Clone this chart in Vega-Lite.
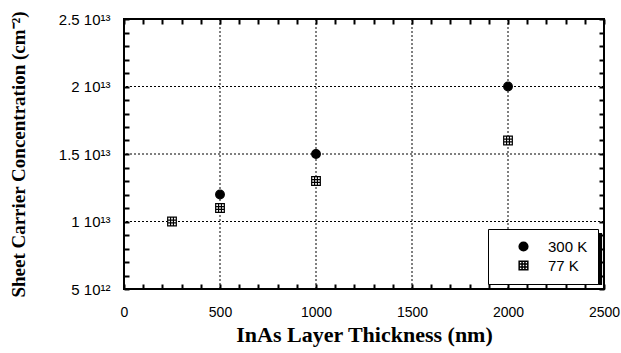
{
  "$schema": "https://vega.github.io/schema/vega-lite/v6.json",
  "width": 480,
  "height": 270,
  "autosize": {"type": "none"},
  "padding": {"left": 124, "top": 19, "right": 17, "bottom": 64},
  "background": "white",
  "config": {
    "view": {"stroke": "black", "strokeWidth": 2},
    "axis": {
      "domain": false,
      "labelColor": "black",
      "labelFont": "Liberation Sans",
      "labelFlush": false,
      "labelOverlap": false,
      "titleColor": "black",
      "titleFont": "Liberation Serif",
      "titleFontWeight": "bold",
      "titleFontSize": 19
    }
  },
  "datasets": {
    "pts": [
      {"thickness": 500, "conc": 12000000000000, "series": "300 K"},
      {"thickness": 1000, "conc": 15000000000000, "series": "300 K"},
      {"thickness": 2000, "conc": 20000000000000, "series": "300 K"},
      {"thickness": 250, "conc": 10000000000000, "series": "77 K"},
      {"thickness": 500, "conc": 11000000000000, "series": "77 K"},
      {"thickness": 1000, "conc": 13000000000000, "series": "77 K"},
      {"thickness": 2000, "conc": 16000000000000, "series": "77 K"}
    ],
    "one": [{"grid": 1}]
  },
  "layer": [
    {
      "data": {"name": "pts"},
      "mark": {"type": "point", "opacity": 0},
      "encoding": {
        "x": {
          "field": "thickness", "type": "quantitative",
          "scale": {"domain": [0, 2500], "nice": false, "zero": false},
          "axis": {
            "orient": "top", "title": null, "labels": false, "grid": false,
            "ticks": true, "tickSize": -5, "tickColor": "#000000", "tickWidth": 2,
            "values": [0,100,200,300,400,500,600,700,800,900,1000,1100,1200,1300,1400,1500,1600,1700,1800,1900,2000,2100,2200,2300,2400,2500]
          }
        },
        "y": {
          "field": "conc", "type": "quantitative",
          "scale": {"domain": [5000000000000, 25000000000000], "nice": false, "zero": false},
          "axis": {
            "orient": "right", "title": null, "labels": false, "grid": false,
            "ticks": true, "tickSize": -5, "tickColor": "#000000", "tickWidth": 2,
            "values": [5000000000000,6000000000000,7000000000000,8000000000000,9000000000000,10000000000000,11000000000000,12000000000000,13000000000000,14000000000000,15000000000000,16000000000000,17000000000000,18000000000000,19000000000000,20000000000000,21000000000000,22000000000000,23000000000000,24000000000000,25000000000000]
          }
        }
      }
    },
    {"data": {"name": "one"}, "mark": {"type": "rule", "color": "black", "strokeWidth": 1, "strokeDash": [2, 2]}, "encoding": {"x": {"datum": 500, "type": "quantitative", "axis": null}}},
    {"data": {"name": "one"}, "mark": {"type": "rule", "color": "black", "strokeWidth": 1, "strokeDash": [2, 2]}, "encoding": {"x": {"datum": 1000, "type": "quantitative", "axis": null}}},
    {"data": {"name": "one"}, "mark": {"type": "rule", "color": "black", "strokeWidth": 1, "strokeDash": [2, 2]}, "encoding": {"x": {"datum": 1500, "type": "quantitative", "axis": null}}},
    {"data": {"name": "one"}, "mark": {"type": "rule", "color": "black", "strokeWidth": 1, "strokeDash": [2, 2]}, "encoding": {"x": {"datum": 2000, "type": "quantitative", "axis": null}}},
    {"data": {"name": "one"}, "mark": {"type": "rule", "color": "black", "strokeWidth": 1, "strokeDash": [2, 2]}, "encoding": {"y": {"datum": 10000000000000, "type": "quantitative", "axis": null}}},
    {"data": {"name": "one"}, "mark": {"type": "rule", "color": "black", "strokeWidth": 1, "strokeDash": [2, 2]}, "encoding": {"y": {"datum": 15000000000000, "type": "quantitative", "axis": null}}},
    {"data": {"name": "one"}, "mark": {"type": "rule", "color": "black", "strokeWidth": 1, "strokeDash": [2, 2]}, "encoding": {"y": {"datum": 20000000000000, "type": "quantitative", "axis": null}}},
    {
      "data": {"name": "one"},
      "mark": {"type": "rect", "fill": "black", "opacity": 1},
      "encoding": {
        "x": {"datum": 1917, "type": "quantitative", "axis": null},
        "x2": {"datum": 2490},
        "y": {"datum": 9150000000000, "type": "quantitative", "axis": null},
        "y2": {"datum": 5300000000000}
      }
    },
    {
      "data": {"name": "pts"},
      "mark": {"type": "point", "stroke": "black", "strokeWidth": 1.2, "size": 75, "opacity": 1},
      "encoding": {
        "x": {
          "field": "thickness", "type": "quantitative",
          "scale": {"domain": [0, 2500], "nice": false, "zero": false},
          "axis": {
            "orient": "bottom",
            "title": "InAs Layer Thickness (nm)",
            "titleFontSize": 22,
            "format": "d",
            "values": [0,100,200,300,400,500,600,700,800,900,1000,1100,1200,1300,1400,1500,1600,1700,1800,1900,2000,2100,2200,2300,2400,2500],
            "labelExpr": "datum.value % 500 === 0 ? datum.label : ''",
            "labelFontSize": 14,
            "labelPadding": 21,
            "titlePadding": 5,
            "ticks": true, "tickSize": -5, "tickColor": "#000000", "tickWidth": 2,
            "grid": false
          }
        },
        "y": {
          "field": "conc", "type": "quantitative",
          "scale": {"domain": [5000000000000, 25000000000000], "nice": false, "zero": false},
          "axis": {
            "orient": "left",
            "title": "Sheet Carrier Concentration (cm⁻²)",
            "values": [5000000000000,6000000000000,7000000000000,8000000000000,9000000000000,10000000000000,11000000000000,12000000000000,13000000000000,14000000000000,15000000000000,16000000000000,17000000000000,18000000000000,19000000000000,20000000000000,21000000000000,22000000000000,23000000000000,24000000000000,25000000000000],
            "labelExpr": "datum.value === 5000000000000 ? '5 10¹²' : (datum.value % 5000000000000 === 0 ? (datum.value / 10000000000000) + ' 10¹³' : '')",
            "labelFontSize": 15,
            "labelPadding": 19,
            "titlePadding": 30,
            "ticks": true, "tickSize": -5, "tickColor": "#000000", "tickWidth": 2,
            "grid": false
          }
        },
        "shape": {
          "field": "series", "type": "nominal",
          "scale": {"domain": ["300 K", "77 K"], "range": ["circle", "M-1,-1H1V1H-1Z M-0.33,-1V1 M0.33,-1V1 M-1,-0.33H1 M-1,0.33H1"]},
          "legend": {
            "title": null, "orient": "none", "legendX": 364, "legendY": 210,
            "strokeColor": "black", "fillColor": "white",
            "padding": 10, "labelFont": "Liberation Sans", "labelFontSize": 15, "labelColor": "black",
            "symbolSize": 75, "symbolOffset": 18, "labelOffset": 17, "rowPadding": 3,
            "encode": {"symbols": {"update": {"stroke": {"value": "black"}, "strokeWidth": {"value": 1.2}}}}
          }
        },
        "fill": {
          "field": "series", "type": "nominal",
          "scale": {"domain": ["300 K", "77 K"], "range": ["black", "white"]},
          "legend": {
            "title": null, "orient": "none", "legendX": 364, "legendY": 210,
            "strokeColor": "black", "fillColor": "white",
            "padding": 10, "labelFont": "Liberation Sans", "labelFontSize": 15, "labelColor": "black",
            "symbolSize": 75, "symbolOffset": 18, "labelOffset": 17, "rowPadding": 3,
            "encode": {"symbols": {"update": {"stroke": {"value": "black"}, "strokeWidth": {"value": 1.2}}}}
          }
        }
      }
    }
  ],
  "resolve": {"axis": {"x": "independent", "y": "independent"}}
}
